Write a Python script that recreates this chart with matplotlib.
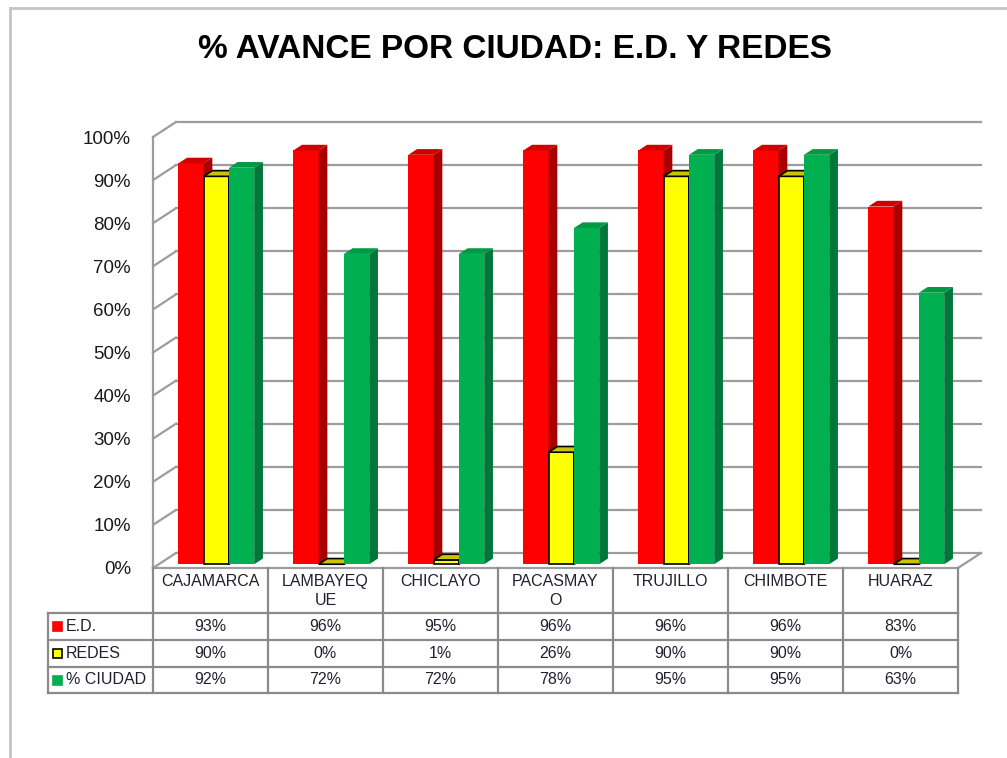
import matplotlib
matplotlib.use('Agg')
import matplotlib.pyplot as plt
from matplotlib.patches import Polygon, Rectangle
from matplotlib.lines import Line2D

# ---------------- data ----------------
categories = ['CAJAMARCA', 'LAMBAYEQUE', 'CHICLAYO', 'PACASMAYO', 'TRUJILLO', 'CHIMBOTE', 'HUARAZ']
header_labels = ['CAJAMARCA', 'LAMBAYEQ\nUE', 'CHICLAYO', 'PACASMAY\nO', 'TRUJILLO', 'CHIMBOTE', 'HUARAZ']
series_names = ['E.D.', 'REDES', '% CIUDAD']
ed = [93, 96, 95, 96, 96, 96, 83]
redes = [90, 0, 1, 26, 90, 90, 0]
ciudad = [92, 72, 72, 78, 95, 95, 63]
yticks = [0, 10, 20, 30, 40, 50, 60, 70, 80, 90, 100]
title = '% AVANCE POR CIUDAD: E.D. Y REDES'

series = [ed, redes, ciudad]
front_cols = ['#FF0000', '#FFFF00', '#00B050']
side_cols = ['#A80000', '#B0A800', '#00773A']
top_cols = ['#D00000', '#CCC200', '#009A45']
edge_cols = ['none', 'black', 'none']

plt.rcParams['font.family'] = ['Liberation Sans', 'DejaVu Sans']

W, H = 1007, 758
fig = plt.figure(figsize=(W / 100, H / 100), dpi=100)
fig.patch.set_facecolor('white')

# plot area (front plane)
x0, x1, yb, yt = 153, 958, 568, 137
ax = fig.add_axes([x0 / W, (H - yb) / H, (x1 - x0) / W, (yb - yt) / H])
n = len(categories)
ax.set_xlim(-0.5, n - 0.5)
ax.set_ylim(0, 100)
for s in ax.spines.values():
    s.set_visible(False)
ax.set_xticks([])
ax.set_yticks(yticks)
ax.set_yticklabels([f'{t}%' for t in yticks])
ax.tick_params(axis='y', length=0, pad=22 * 0.72, labelsize=13.5, labelcolor='#1a1a1a')
ax.patch.set_visible(False)

px_x = (x1 - x0) / n          # pixels per category unit
px_y = (yb - yt) / 100.0      # pixels per percent
dxw = 23 / px_x               # wall depth offset in data units
dyw = 15 / px_y

grid_c = '#9c9c9c'
glw = 1.6
# floor
ax.add_line(Line2D([-0.5, n - 0.5], [0, 0], color=grid_c, lw=glw, clip_on=False, zorder=1))
ax.add_line(Line2D([n - 0.5, n - 0.5 + dxw], [0, dyw], color=grid_c, lw=glw, clip_on=False, zorder=1))
# left wall front edge
ax.add_line(Line2D([-0.5, -0.5], [0, 100], color=grid_c, lw=glw, clip_on=False, zorder=1))
for t in yticks:
    ax.add_line(Line2D([-0.5, -0.5 + dxw], [t, t + dyw], color=grid_c, lw=glw, clip_on=False, zorder=1))
    ax.add_line(Line2D([-0.5 + dxw, n - 0.5 + dxw], [t + dyw, t + dyw], color=grid_c, lw=glw,
                       clip_on=False, zorder=1))

# bars
bw = 0.22
f1, f2 = 0.25, 0.63
bdx1, bdy1 = f1 * dxw, f1 * dyw
bdx2, bdy2 = f2 * dxw, f2 * dyw
offs = [-bw, 0, bw]
xs = list(range(n))
for j, vals in enumerate(series):
    z = 3 + j
    lw = 1.2 if edge_cols[j] != 'none' else 0
    lefts = [x + offs[j] - bw / 2 + bdx1 for x in xs]
    ax.bar(lefts, vals, width=bw, bottom=bdy1, align='edge', color=front_cols[j],
           edgecolor=edge_cols[j], linewidth=lw, zorder=z, clip_on=False)
    for L, v in zip(lefts, vals):
        R = L + bw
        top = v + bdy1
        dx, dy = bdx2 - bdx1, bdy2 - bdy1
        side = Polygon([[R, bdy1], [R + dx, bdy1 + dy], [R + dx, top + dy], [R, top]], closed=True,
                       facecolor=side_cols[j], edgecolor=edge_cols[j], lw=lw, zorder=z, clip_on=False)
        topf = Polygon([[L, top], [R, top], [R + dx, top + dy], [L + dx, top + dy]], closed=True,
                       facecolor=top_cols[j], edgecolor=edge_cols[j], lw=lw, zorder=z, clip_on=False)
        ax.add_patch(side)
        ax.add_patch(topf)

# ---------------- data table ----------------
tc = '#8a8a8a'
tlw = 1.6
def ypx(p):
    return (yb - p) / px_y
def xpx(p):
    return -0.5 + (p - x0) / px_x

h_bot = ypx(613)
rows_y = [ypx(613), ypx(640), ypx(667), ypx(693)]
xl = xpx(48)
# header
for i in range(n + 1):
    ax.add_line(Line2D([i - 0.5, i - 0.5], [0, h_bot], color=tc, lw=tlw, clip_on=False))
# row lines
for yy in rows_y:
    ax.add_line(Line2D([xl, n - 0.5], [yy, yy], color=tc, lw=tlw, clip_on=False))
# row verticals
for xv in [xl] + [i - 0.5 for i in range(n + 1)]:
    ax.add_line(Line2D([xv, xv], [rows_y[0], rows_y[-1]], color=tc, lw=tlw, clip_on=False))

txt_c = '#202030'
for i, lab in enumerate(header_labels):
    ax.text(i, ypx(574), lab, ha='center', va='top', fontsize=11.5, color=txt_c,
            linespacing=1.35, clip_on=False)

key_w = 9 / px_x
key_h = 9 / px_y
for r, (name, vals) in enumerate(zip(series_names, series)):
    yc = (rows_y[r] + rows_y[r + 1]) / 2
    ax.add_patch(Rectangle((xpx(53), yc - key_h / 2), key_w, key_h, facecolor=front_cols[r],
                           edgecolor=edge_cols[r] if edge_cols[r] != 'none' else front_cols[r],
                           lw=1.2, clip_on=False))
    ax.text(xpx(66), yc, name, ha='left', va='center', fontsize=11.5, color=txt_c, clip_on=False)
    for i, v in enumerate(vals):
        ax.text(i, yc, f'{v}%', ha='center', va='center', fontsize=11.5, color=txt_c, clip_on=False)

# title
fig.text(515 / W, (H - 50) / H, title, ha='center', va='center', fontsize=24, fontweight='bold',
         color='black')

# outer chart frame
fc = '#c4c4c4'
fig.add_artist(Line2D([10 / W, 10 / W], [0, (H - 8) / H], transform=fig.transFigure, color=fc, lw=2))
fig.add_artist(Line2D([10 / W, 1], [(H - 8) / H, (H - 8) / H], transform=fig.transFigure, color=fc, lw=2))

fig.savefig('out.png', dpi=100, facecolor='white')
